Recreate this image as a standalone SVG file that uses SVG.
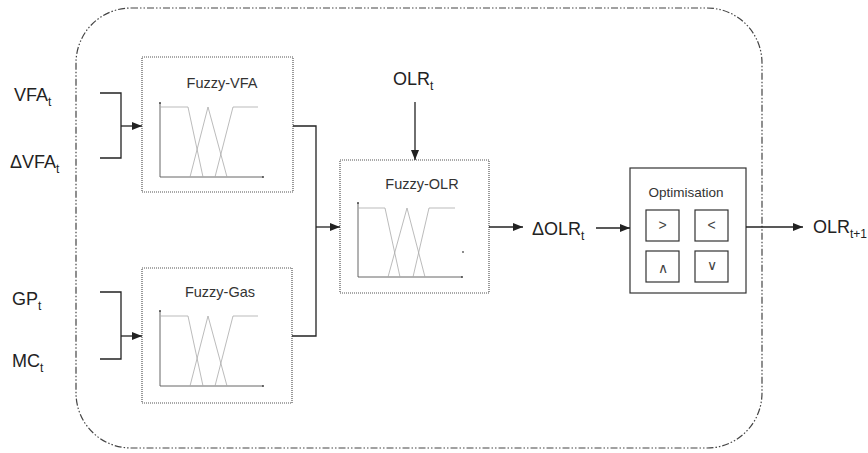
<svg xmlns="http://www.w3.org/2000/svg" width="868" height="453" viewBox="0 0 868 453">
<defs>
<marker id="ah" markerWidth="10" markerHeight="8" refX="10" refY="4" orient="auto" markerUnits="userSpaceOnUse">
<path d="M0,0 L10,4 L0,8 Z" fill="#222"/>
</marker>
<marker id="dot" markerWidth="3" markerHeight="3" refX="1.5" refY="1.5" markerUnits="userSpaceOnUse">
<circle cx="1.5" cy="1.5" r="1" fill="#444"/>
</marker>
</defs>
<style>
.lbl{font-family:"Liberation Sans",Arial,sans-serif;font-size:18px;fill:#222}
.sub{font-size:12px}
.ttl{font-family:"Liberation Sans",Arial,sans-serif;font-size:14.5px;fill:#333;text-anchor:middle}
.ttl2{font-family:"Liberation Sans",Arial,sans-serif;font-size:13.5px;fill:#333;text-anchor:middle}
.fbox{fill:none;stroke:#555;stroke-width:1.2;stroke-dasharray:1,1}
.obox{fill:none;stroke:#333;stroke-width:1.2}
.axis{fill:none;stroke:#555;stroke-width:0.9;marker-end:url(#dot);marker-start:url(#dot)}
.mf{fill:none;stroke:#aaa;stroke-width:0.8}
.conn{fill:none;stroke:#222;stroke-width:1.3}
.sym{font-family:"Liberation Sans",Arial,sans-serif;font-size:14px;fill:#444;text-anchor:middle}
</style>
<rect x="76" y="8" width="686" height="440" rx="55" ry="55" fill="none" stroke="#444" stroke-width="1.2" stroke-dasharray="7,2,1.5,2,1.5,2"/>

<g id="labels">
<text class="lbl" x="14" y="101">VFA<tspan class="sub" dy="5">t</tspan></text>
<text class="lbl" x="10" y="168">ΔVFA<tspan class="sub" dy="5">t</tspan></text>
<text class="lbl" x="12" y="305">GP<tspan class="sub" dy="5">t</tspan></text>
<text class="lbl" x="12" y="367">MC<tspan class="sub" dy="5">t</tspan></text>
<text class="lbl" x="393" y="85">OLR<tspan class="sub" dy="5">t</tspan></text>
<text class="lbl" x="532" y="235">ΔOLR<tspan class="sub" dy="5">t</tspan></text>
<text class="lbl" x="813" y="233">OLR<tspan class="sub" dy="5">t+1</tspan></text>
</g>

<g id="fuzzy-vfa">
<rect class="fbox" x="142" y="57" width="151" height="135"/>
<text class="ttl" x="222" y="88">Fuzzy-VFA</text>
<path class="axis" d="M160,103 L160,177 L263,177"/>
<path class="mf" d="M160,107 L188,107 L203,177 M190,177 L208,107 L227,177 M215,177 L233,107 L258,107"/>
</g>

<g id="fuzzy-gas">
<rect class="fbox" x="142" y="268" width="150" height="135"/>
<text class="ttl" x="220" y="297">Fuzzy-Gas</text>
<path class="axis" d="M160,311 L160,386 L263,386"/>
<path class="mf" d="M160,316 L188,316 L203,386 M190,386 L208,316 L227,386 M215,386 L233,316 L258,316"/>
</g>

<g id="fuzzy-olr">
<rect class="fbox" x="340" y="160" width="149" height="133"/>
<text class="ttl" x="422" y="189">Fuzzy-OLR</text>
<path class="axis" d="M358,203 L358,277 L462,277"/>
<path class="mf" d="M358,208 L385,208 L400,277 M388,277 L407,208 L425,277 M413,277 L429,208 L455,208"/>
<circle cx="463" cy="252" r="0.9" fill="#555"/>
</g>

<g id="optimisation">
<rect class="obox" x="630" y="168" width="116" height="125"/>
<text class="ttl2" x="686" y="197">Optimisation</text>
<rect class="obox" x="646" y="210" width="33" height="31"/>
<rect class="obox" x="695" y="210" width="33" height="31"/>
<rect class="obox" x="646" y="251" width="33" height="31"/>
<rect class="obox" x="695" y="251" width="33" height="31"/>
<text class="sym" x="662.5" y="230">&gt;</text>
<text class="sym" x="711.5" y="230">&lt;</text>
<text class="sym" x="662.5" y="273">∧</text>
<text class="sym" x="711.5" y="270">∨</text>
</g>

<g id="connectors">
<path class="conn" d="M100,93 L121,93 L121,158 L100,158"/>
<path class="conn" d="M121,126 L142,126" marker-end="url(#ah)"/>
<path class="conn" d="M100,292 L121,292 L121,359 L100,359"/>
<path class="conn" d="M121,336 L142,336" marker-end="url(#ah)"/>
<path class="conn" d="M293,126 L316,126 L316,336 L292,336"/>
<path class="conn" d="M316,227 L340,227" marker-end="url(#ah)"/>
<path class="conn" d="M415,102 L415,160" marker-end="url(#ah)"/>
<path class="conn" d="M489,227 L523,227" marker-end="url(#ah)"/>
<path class="conn" d="M596,228 L630,228" marker-end="url(#ah)"/>
<path class="conn" d="M746,227 L803,227" marker-end="url(#ah)"/>
</g>
</svg>
